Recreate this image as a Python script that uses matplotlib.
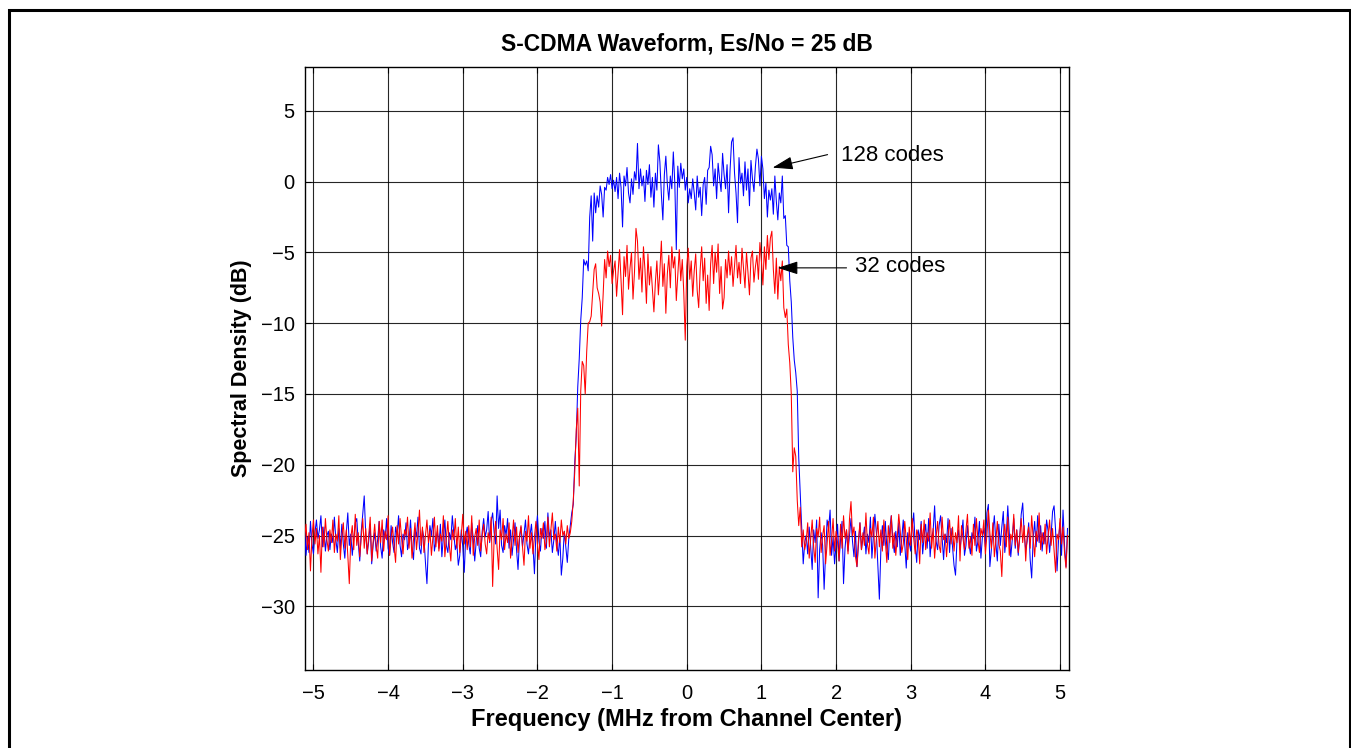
import numpy as np
import matplotlib
matplotlib.use("Agg")
import matplotlib.pyplot as plt
from matplotlib.patches import Rectangle

plt.rcParams['font.family'] = ['Liberation Sans', 'DejaVu Sans']

# ---------------- data ----------------
freq_start = -5.12      # MHz, first FFT bin
freq_step = 0.02        # MHz, bin spacing

blue_floor_left = [
    -24.3, -26.4, -25.1, -26.2, -24.0, -25.6, -26.3, -24.8, -23.9, -25.2,
    -24.6, -23.6, -25.8, -24.4, -26.1, -25.0, -24.7, -26.0, -24.9, -25.5,
    -23.7, -25.3, -26.2, -24.5, -25.9, -24.2, -25.6, -26.6, -24.8, -23.4,
    -25.7, -24.9, -26.4, -25.2, -24.1, -23.8, -25.5, -26.8, -24.7, -23.5,
    -22.2, -24.9, -26.3, -25.4, -24.2, -27.0, -25.6, -24.8, -26.1, -25.3,
    -24.0, -25.8, -26.6, -24.6, -25.2, -23.8, -25.9, -26.4, -24.3, -25.5,
    -26.2, -24.4, -25.0, -23.6, -25.7, -26.5, -24.9, -25.3, -24.1, -26.0,
    -25.4, -23.9, -25.8, -26.7, -24.5, -25.1, -23.7, -25.9, -26.3, -24.6,
    -25.2, -26.9, -28.4, -25.6, -24.3, -25.0, -23.8, -26.1, -25.4, -24.7,
    -25.9, -24.2, -26.5, -25.1, -23.9, -25.7, -26.2, -24.8, -25.3, -23.6,
    -24.9, -26.0, -25.5, -27.1, -26.4, -24.6, -25.8, -27.6, -25.0, -24.4,
    -25.6, -26.3, -24.1, -25.2, -26.8, -25.4, -24.3, -25.9, -26.5, -24.7,
    -23.8, -25.1, -24.6, -23.3, -25.5, -24.0, -23.4, -24.8, -25.6, -22.2,
    -24.5, -23.2, -25.7, -26.2, -24.3, -25.0, -23.8, -25.9, -24.6, -26.4,
    -25.3, -24.1, -26.0, -27.4, -25.2, -24.4, -25.8, -24.9, -23.9, -25.6,
    -26.3, -25.0, -24.2, -25.7, -27.7, -24.8, -23.6, -25.4, -26.1, -24.5,
    -25.2, -24.0, -25.9, -23.4, -25.1, -24.6, -26.2, -25.3, -24.0, -25.6,
    -26.4, -25.0, -27.8, -26.6, -24.7, -25.8, -26.9, -25.2, -24.3,
]
blue_rise = [
    -23.4, -22.8, -19.8, -18.0, -14.5, -12.5, -9.8, -8.2, -5.5, -5.9,
    -5.6, -6.3, -2.5, -1.0, -4.2,
]
blue_band = [
    -0.8, -2.2, -1.0, -1.8, -0.3, -0.9, -2.5, -0.4, -0.6, 0.3,
    -0.2, 0.5, -0.5, 0.1, -0.7, 0.3, -1.2, 0.6, -0.4, -3.2,
    0.4, -0.3, 1.0, -0.8, -1.5, 0.2, -0.9, 0.7, 0.1, 2.7,
    -0.5, 0.9, -0.3, 0.4, -1.4, 0.8, -0.2, 1.2, -1.1, 0.3,
    -1.8, 0.6, -0.6, 2.6, 1.4, -0.9, -2.7, 0.5, 1.8, -0.2,
    -1.3, 0.4, -0.5, 2.1, -0.1, -4.8, 1.1, -0.4, 1.3, 0.2,
    0.9, -0.6, 0.3, -1.5, -0.5, -1.2, 0.2, -0.8, -2.0, 0.4,
    -1.1, -0.4, -2.4, -0.2, 0.3, -1.6, 0.8, 1.0, 2.5, 1.9,
    -0.3, 0.9, -1.2, 1.3, 0.2, -0.7, 2.0, 0.5, -0.5, 1.2,
    -2.2, 0.8, 2.8, 3.1, 0.6, -0.8, -2.9, 1.7, -0.1, 0.6,
    -1.0, 1.4, -0.6, 0.9, -1.7, 1.5, 0.2, -0.7, 1.1, 2.3,
    1.6, -0.3, 1.8, 0.9, -1.2, -0.1, -2.5, -0.6, -1.3, -0.5,
    -2.3, 0.4, -1.4, -2.7, -0.8,
]
blue_fall = [
    -1.5, 0.4, -2.6, -2.4, -4.5, -4.6, -7.0, -8.5, -11.0, -12.6,
    -13.5, -14.8, -19.5, -22.0, -24.5, -27.0, -25.5,
]
blue_floor_right = [
    -25.0, -26.3, -24.4, -25.8, -27.4, -24.6, -25.5, -23.9, -29.4, -26.0,
    -24.8, -25.7, -28.8, -26.2, -23.9, -24.5, -23.2, -26.4, -25.1, -27.0,
    -25.6, -24.2, -26.8, -25.3, -24.0, -28.4, -25.9, -24.6, -26.1, -25.0,
    -23.8, -25.4, -26.5, -24.7, -27.2, -25.6, -24.1, -26.0, -25.2, -24.4,
    -26.3, -24.9, -25.5, -23.7, -26.6, -25.1, -23.5, -24.8, -27.1, -29.5,
    -26.0, -24.3, -25.7, -24.0, -25.9, -26.7, -24.5, -23.6, -25.3, -26.2,
    -24.7, -25.8, -24.1, -26.4, -25.2, -23.9, -25.6, -27.3, -24.8, -25.5,
    -26.1, -24.4, -23.4, -25.7, -26.9, -24.6, -25.3, -24.0, -26.3, -25.0,
    -24.2, -25.9, -23.8, -26.5, -25.1, -24.7, -22.9, -25.4, -26.0, -24.3,
    -23.6, -25.2, -26.7, -24.9, -25.5, -23.8, -26.2, -24.5, -25.8, -27.1,
    -27.8, -25.3, -24.6, -26.0, -25.0, -23.9, -26.4, -25.7, -24.3, -25.6,
    -26.3, -24.8, -25.2, -23.7, -26.1, -25.4, -24.0, -26.6, -25.1, -24.5,
    -25.8, -23.4, -22.8, -27.2, -26.0, -24.7, -23.6, -25.5, -26.8, -24.2,
    -25.7, -24.4, -23.3, -26.2, -25.0, -22.9, -24.8, -26.5, -25.3, -23.8,
    -25.9, -24.6, -26.4, -25.1, -23.5, -22.7, -24.9, -26.0, -25.4, -24.1,
    -26.7, -28.0, -25.2, -24.0, -25.8, -23.6, -25.5, -24.3, -26.1, -24.8,
    -25.6, -23.9, -24.7, -26.2, -25.0, -23.3, -22.9, -24.6, -27.5, -25.3,
    -24.1, -26.4, -23.2, -25.7, -27.2, -24.5,
]

red_floor_left = [
    -25.3, -24.2, -26.0, -24.8, -27.5, -25.1, -23.9, -25.6, -24.5, -26.3,
    -25.0, -27.6, -24.4, -25.8, -23.8, -25.3, -26.1, -24.6, -25.5, -23.9,
    -26.2, -24.9, -25.4, -23.6, -26.7, -25.0, -24.1, -25.9, -24.6, -26.4,
    -28.4, -25.2, -24.3, -26.0, -23.5, -25.7, -24.8, -26.5, -25.1, -23.8,
    -25.9, -24.5, -26.3, -25.0, -23.7, -26.8, -25.4, -24.2, -25.7, -26.6,
    -24.0, -25.5, -23.9, -26.1, -24.7, -25.3, -23.6, -26.4, -25.1, -24.4,
    -25.8, -26.9, -24.3, -25.6, -23.8, -25.2, -26.3, -24.6, -25.0, -23.7,
    -25.9, -24.5, -26.6, -25.3, -24.1, -26.0, -24.8, -23.2, -25.7, -24.4,
    -26.2, -25.0, -23.9, -25.5, -24.6, -26.4, -25.1, -23.7, -25.8, -24.3,
    -26.1, -24.9, -25.4, -23.6, -26.5, -25.2, -24.0, -25.7, -26.8, -24.6,
    -25.3, -23.8, -25.9, -24.4, -26.2, -25.0, -23.5, -25.6, -24.7, -26.0,
    -24.3, -25.8, -23.6, -26.4, -25.1, -24.5, -25.7, -23.9, -26.1, -25.0,
    -24.2, -25.6, -26.3, -24.8, -25.4, -23.7, -28.6, -25.2, -24.0, -25.9,
    -27.4, -24.6, -25.3, -23.8, -26.0, -24.9, -25.5, -24.1, -26.6, -25.2,
    -23.9, -25.7, -24.4, -26.2, -25.0, -24.3, -25.8, -27.1, -24.7, -25.4,
    -23.6, -25.9, -24.8, -26.3, -25.1, -24.0, -25.6, -26.7, -24.5, -25.2,
    -24.1, -26.0, -25.4, -23.7, -25.8, -24.6, -23.4, -25.3, -24.9, -26.1,
    -24.4, -25.5, -23.9, -25.0, -24.7, -25.6, -24.3, -25.2, -24.8,
]
red_rise = [
    -24.0, -22.5, -20.5, -17.5, -16.0, -21.5, -14.8, -12.7, -13.0, -15.0,
    -12.0, -10.0, -9.9, -9.5, -7.8,
]
red_band = [
    -6.2, -5.8, -7.5, -7.9, -8.5, -10.2, -8.0, -5.5, -6.8, -4.9,
    -6.0, -5.2, -7.2, -6.3, -5.6, -8.1, -6.5, -4.8, -7.0, -9.4,
    -5.3, -6.7, -4.5, -7.6, -6.1, -5.0, -8.3, -6.4, -3.3, -4.2,
    -6.9, -5.4, -7.8, -4.6, -6.2, -8.6, -5.1, -7.3, -6.0, -7.6,
    -9.2, -7.1, -5.6, -8.0, -6.3, -4.2, -7.4, -5.8, -9.3, -6.5,
    -5.2, -7.5, -4.6, -6.1, -5.3, -8.4, -6.6, -4.8, -7.0, -5.5,
    -7.8, -11.2, -6.0, -4.7, -6.9, -5.6, -8.1, -6.3, -5.1, -7.7,
    -8.9, -6.2, -4.6, -7.0, -5.4, -8.6, -6.6, -9.1, -5.8, -4.5,
    -7.2, -5.0, -6.4, -4.4, -7.9, -6.0, -9.0, -8.2, -5.5, -6.8,
    -4.9, -6.6, -5.3, -7.4, -5.9, -4.5, -6.8, -5.7, -7.2, -4.7,
    -6.1, -7.5, -5.0, -6.4, -8.0, -5.4, -4.9, -7.1, -6.0, -5.2,
    -6.9, -4.3, -5.6, -7.3, -4.6, -6.2, -3.8, -5.5, -4.0, -3.5,
    -6.2, -7.9, -5.4, -8.3, -6.0,
]
red_fall = [
    -7.0, -5.6, -8.9, -9.6, -9.0, -11.5, -12.8, -15.0, -20.5, -18.8,
    -19.4, -22.5, -24.3, -23.0, -25.8, -24.6, -26.0,
]
red_floor_right = [
    -25.4, -24.1, -26.6, -25.2, -23.9, -25.8, -26.9, -24.5, -25.1, -23.7,
    -26.2, -25.0, -24.3, -27.0, -25.6, -24.0, -26.4, -25.3, -23.8, -26.1,
    -24.7, -25.5, -26.8, -24.2, -25.9, -23.6, -25.2, -24.6, -26.3, -23.8,
    -22.6, -25.0, -24.4, -26.5, -27.2, -25.3, -24.1, -26.0, -24.8, -25.7,
    -23.4, -25.6, -26.3, -24.5, -25.1, -23.7, -26.6, -25.2, -24.0, -25.8,
    -24.6, -26.1, -23.9, -25.4, -26.9, -24.3, -25.5, -23.6, -25.9, -24.8,
    -26.4, -25.1, -23.5, -24.7, -26.2, -25.6, -24.0, -25.3, -26.7, -24.4,
    -25.7, -23.8, -25.2, -26.3, -24.6, -25.0, -27.0, -24.2, -25.5, -23.9,
    -26.0, -24.8, -25.4, -23.4, -25.9, -24.5, -26.6, -25.1, -24.0, -25.7,
    -26.2, -23.7, -25.3, -24.9, -26.5, -25.0, -23.9, -25.6, -24.4, -26.1,
    -24.8, -25.5, -23.6, -26.8, -24.3, -25.2, -26.0, -24.6, -23.5, -25.9,
    -25.1, -26.4, -24.2, -25.7, -23.8, -25.3, -26.2, -24.5, -25.0, -23.9,
    -26.3, -25.0, -23.2, -24.8, -25.9, -24.1, -26.5, -25.4, -24.0, -25.6,
    -26.1, -27.9, -25.0, -24.2, -25.8, -23.7, -26.4, -24.9, -25.3, -23.5,
    -25.7, -24.6, -26.2, -25.1, -23.8, -25.5, -24.3, -26.8, -25.0, -24.4,
    -25.9, -23.6, -25.2, -26.5, -24.7, -25.4, -23.4, -26.0, -24.8, -25.6,
    -24.2, -26.3, -25.0, -23.9, -25.7, -24.5, -26.1, -27.6, -24.9, -25.3,
    -23.8, -25.6, -24.4, -26.2, -27.3, -25.0,
]

title_text = "S-CDMA Waveform, Es/No = 25 dB"
xlabel_text = "Frequency (MHz from Channel Center)"
ylabel_text = "Spectral Density (dB)"
label_128 = "128 codes"
label_32 = "32 codes"
xticks = [-5, -4, -3, -2, -1, 0, 1, 2, 3, 4, 5]
yticks = [-30, -25, -20, -15, -10, -5, 0, 5]

# ---------------- assemble ----------------
psd_128 = np.array(blue_floor_left + blue_rise + blue_band + blue_fall + blue_floor_right)
psd_32 = np.array(red_floor_left + red_rise + red_band + red_fall + red_floor_right)
freq = freq_start + freq_step * np.arange(len(psd_128))

# ---------------- figure ----------------
W, H = 1351, 748
fig = plt.figure(figsize=(W / 100, H / 100), dpi=100)
fig.patch.set_facecolor('white')
ax = fig.add_axes([304.5 / W, 1 - 670 / H, (1069 - 304.5) / W, (670 - 67) / H])

ax.plot(freq, psd_128, color='#0000ff', lw=0.75, zorder=3)
ax.plot(freq, psd_32, color='#ff0000', lw=0.75, zorder=4)

ax.set_xlim(-5.12, 5.12)
ax.set_ylim(-34.5, 8.1)
ax.set_xticks(xticks)
ax.set_yticks(yticks)
ax.grid(True, color='black', lw=0.8, ls='-', alpha=0.85, zorder=1)
ax.set_axisbelow(True)
ax.tick_params(direction='in', top=True, right=True, length=4, width=0.8,
               labelsize=14.5)
ax.tick_params(axis='x', pad=10)
ax.tick_params(axis='y', pad=7)
for s in ax.spines.values():
    s.set_linewidth(1.0)

ax.set_title(title_text, fontsize=16.5, fontweight='bold', pad=12)
ax.set_xlabel(xlabel_text, fontsize=17, fontweight='bold', labelpad=4)
ax.set_ylabel(ylabel_text, fontsize=15.5, fontweight='bold', labelpad=6)

arrow_kw = dict(arrowstyle='-|>,head_length=1.25,head_width=0.4',
                color='black', lw=0.8, mutation_scale=10, shrinkA=0, shrinkB=0)
ax.annotate('', xy=(1.15, 0.99), xytext=(1.886, 1.91), arrowprops=arrow_kw, zorder=6)
ax.annotate('', xy=(1.217, -6.09), xytext=(2.14, -6.09), arrowprops=arrow_kw, zorder=6)
ax.text(2.07, 1.84, label_128, fontsize=16, va='center', ha='left', zorder=6)
ax.text(2.25, -6.0, label_32, fontsize=16, va='center', ha='left', zorder=6)

# outer frame
fig.add_artist(Rectangle((8.5 / W, -0.02), (1349.5 - 8.5) / W, 1.02 - 9.5 / H,
                         transform=fig.transFigure, fill=False, lw=2.2,
                         edgecolor='black'))

fig.savefig('out.png', dpi=100)
